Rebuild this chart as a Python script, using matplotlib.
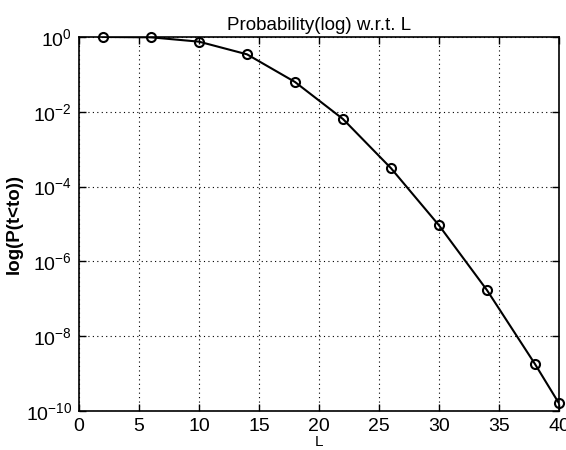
import matplotlib
matplotlib.use("Agg")
import matplotlib.pyplot as plt
from matplotlib.ticker import NullLocator

plt.rcParams["font.family"] = ["Liberation Sans", "DejaVu Sans"]

# values
L = [2, 6, 10, 14, 18, 22, 26, 30, 34, 38, 40]
prob = [1.0, 0.98, 0.75, 0.344, 0.0626, 0.0064, 3.1e-4, 9.2e-6, 1.7e-7, 1.8e-9, 1.6e-10]
x_ticks = [0, 5, 10, 15, 20, 25, 30, 35, 40]
y_ticks = [1e-10, 1e-8, 1e-6, 1e-4, 1e-2, 1e0]

fig = plt.figure(figsize=(5.66, 4.5), dpi=100)
ax = fig.add_axes([0.1396, 0.0867, 0.848, 0.8311])

ax.semilogy(L, prob, "k-", linewidth=1.5)
ax.plot(L, prob, "o", markerfacecolor="none", markeredgecolor="k",
        markersize=6.5, markeredgewidth=1.5, clip_on=False, zorder=5)

ax.set_xlim(0, 40)
ax.set_ylim(1e-10, 1e0)
ax.set_xticks(x_ticks)
ax.set_yticks(y_ticks)
ax.yaxis.set_minor_locator(NullLocator())

ax.grid(True, which="major", linestyle=(0, (1, 3)), color="k", linewidth=0.8)
ax.tick_params(direction="in", length=5, width=1, labelsize=14, pad=5,
               top=True, right=True, labeltop=False, labelright=False)
for s in ax.spines.values():
    s.set_linewidth(1.2)

ax.set_title("Probability(log) w.r.t. L", fontsize=13.5, pad=5)
ax.set_xlabel("L", fontsize=11, labelpad=0)
ax.set_ylabel("log(P(t<to))", fontsize=13.5, fontweight="bold", labelpad=2)

fig.savefig("out.png", dpi=100)
